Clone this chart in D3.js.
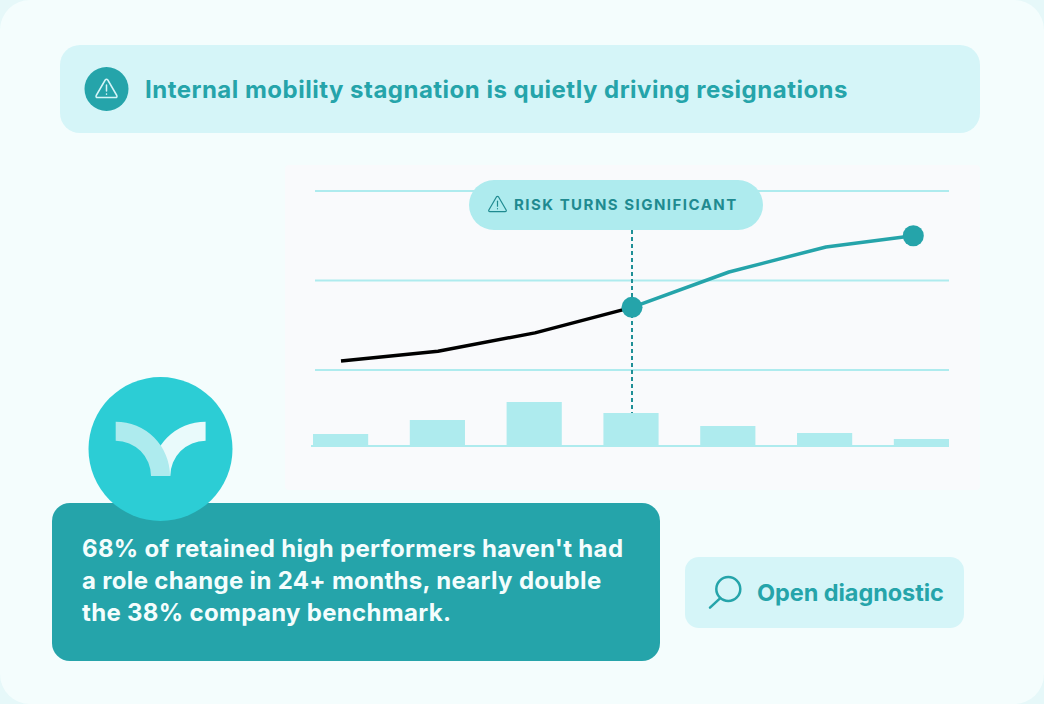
<!DOCTYPE html>
<html>
<head>
<meta charset="utf-8">
<script src="https://cdn.jsdelivr.net/npm/d3@7"></script>
<style>
html, body { margin: 0; padding: 0; background: #e6f8f9; }
svg { display: block; }
text { font-family: Inter, sans-serif; font-weight: 700; }
</style>
</head>
<body>
<script>
var barValues = [12, 26, 44, 33, 20, 13, 7];
var barCategories = ["a", "b", "c", "d", "e", "f", "g"];
var lineSteps = [0, 1, 2, 3, 4, 5, 5.9];
var lineValues = [22, 24.2, 28.3, 34, 41.9, 47.5, 50];
var gridTicks = [20, 40, 60];
var turnIndex = 3;
var messageLines = ["68% of retained high performers haven't had", "a role change in 24+ months, nearly double", "the 38% company benchmark."];

var teal = "#25a4aa", pale = "#d5f5f8", aqua = "#aeebee";

var svg = d3.select("body").append("svg").attr("width", 1044).attr("height", 704);

function box(x, y, w, h, r, fill) {
    return svg.append("rect").attr("x", x).attr("y", y).attr("width", w).attr("height", h).attr("rx", r).attr("fill", fill);
}

function warning(cx, cy, s, color, sw) {
    var g = svg.append("g").attr("transform", "translate(" + cx + "," + cy + ") scale(" + s + ")")
        .attr("fill", "none").attr("stroke", color).attr("stroke-width", sw / s).attr("stroke-linejoin", "round").attr("stroke-linecap", "round");
    g.append("path").attr("d", "M-1.3,-9 L-10.3,6.5 Q-11,8.5 -9,8.5 L9,8.5 Q11,8.5 10.3,6.5 L1.3,-9 Q0,-10.5 -1.3,-9 Z");
    g.append("path").attr("d", "M0,-4 L0,2");
    g.append("path").attr("d", "M0,5 L0,5.2");
}

// page
box(0, 0, 1044, 704, 30, "#f4fdfd");
box(285, 165, 695, 325, 4, "#f9fafc");

// header
box(60, 45, 920, 88, 20, pale);
svg.append("circle").attr("cx", 106.5).attr("cy", 89).attr("r", 22).attr("fill", teal);
warning(106.5, 89, 1, "#d5f5f8", 1.5);
svg.append("text").attr("x", 145).attr("y", 98).attr("font-size", 24).attr("letter-spacing", 0.49).attr("fill", teal)
    .text("Internal mobility stagnation is quietly driving resignations");

// scales
var xBar = d3.scaleBand().domain(barCategories).range([313, 949]).paddingInner(0.43);
var yBar = d3.scaleLinear().domain([0, 44]).range([446, 402]);
var xLine = d3.scaleLinear().domain([0, 6]).range([341, 923]);
var yLine = d3.scaleLinear().domain([20, 60]).range([370, 191]);

// grid
svg.selectAll(".grid").data(gridTicks).enter().append("line").attr("class", "grid")
    .attr("x1", 315).attr("x2", 949)
    .attr("y1", function (d) { return yLine(d); }).attr("y2", function (d) { return yLine(d); })
    .attr("stroke", aqua).attr("stroke-width", 1.8);

// bars
svg.append("line").attr("x1", 311).attr("x2", 949).attr("y1", yBar(0)).attr("y2", yBar(0)).attr("stroke", aqua).attr("stroke-width", 2);
svg.selectAll(".bar").data(barValues).enter().append("rect").attr("class", "bar")
    .attr("x", function (d, i) { return xBar(barCategories[i]); })
    .attr("y", function (d) { return yBar(d); })
    .attr("width", xBar.bandwidth())
    .attr("height", function (d) { return yBar(0) - yBar(d); })
    .attr("fill", aqua);

// marker line
svg.append("line")
    .attr("x1", xLine(lineSteps[turnIndex])).attr("x2", xLine(lineSteps[turnIndex]))
    .attr("y1", 230).attr("y2", yBar(barValues[turnIndex]))
    .attr("stroke", "#1f8f96").attr("stroke-width", 2).attr("stroke-dasharray", "4 3");

// line
var points = lineSteps.map(function (s, i) { return [xLine(s), yLine(lineValues[i])]; });
var line = d3.line();
svg.append("path").attr("d", line(points.slice(0, turnIndex + 1))).attr("fill", "none").attr("stroke", "#000").attr("stroke-width", 3.5).attr("stroke-linejoin", "round");
svg.append("path").attr("d", line(points.slice(turnIndex))).attr("fill", "none").attr("stroke", teal).attr("stroke-width", 3.5).attr("stroke-linejoin", "round");
svg.selectAll(".dot").data([points[turnIndex], points[points.length - 1]]).enter().append("circle").attr("class", "dot")
    .attr("cx", function (d) { return d[0]; }).attr("cy", function (d) { return d[1]; })
    .attr("r", 10.5).attr("fill", teal);

// pill
box(469, 180, 294, 50, 25, aqua);
warning(497.5, 204.5, 0.84, "#1f8a90", 1.2);
svg.append("text").attr("x", 514).attr("y", 210).attr("font-size", 15).attr("letter-spacing", 1.48).attr("fill", "#1f8a90")
    .text("RISK TURNS SIGNIFICANT");

// message card
box(52, 503, 608, 158, 18, teal);
svg.selectAll(".msg").data(messageLines).enter().append("text").attr("class", "msg")
    .attr("x", 82).attr("y", function (d, i) { return 557 + i * 32; })
    .attr("font-size", 24).attr("letter-spacing", 0.32).attr("fill", "#f4fdfd")
    .text(function (d) { return d; });

// logo
svg.append("circle").attr("cx", 160.5).attr("cy", 449).attr("r", 72).attr("fill", "#2ccdd5");
var arc = d3.arc().innerRadius(35.3).outerRadius(54.3);
svg.append("path").attr("transform", "translate(205.6,476)").attr("d", arc({ startAngle: -Math.PI / 2, endAngle: 0 })).attr("fill", "#e9fafb");
svg.append("path").attr("transform", "translate(115.7,476)").attr("d", arc({ startAngle: 0, endAngle: Math.PI / 2 })).attr("fill", aqua);

// button
box(685, 557, 279, 71, 14, pale);
svg.append("circle").attr("cx", 728.3).attr("cy", 589).attr("r", 12).attr("fill", "none").attr("stroke", teal).attr("stroke-width", 2.5);
svg.append("line").attr("x1", 710).attr("y1", 607.7).attr("x2", 720).attr("y2", 598.3).attr("stroke", teal).attr("stroke-width", 2.5).attr("stroke-linecap", "round");
svg.append("text").attr("x", 757).attr("y", 601).attr("font-size", 23.5).attr("letter-spacing", -0.07).attr("fill", teal)
    .text("Open diagnostic");
</script>
</body>
</html>
